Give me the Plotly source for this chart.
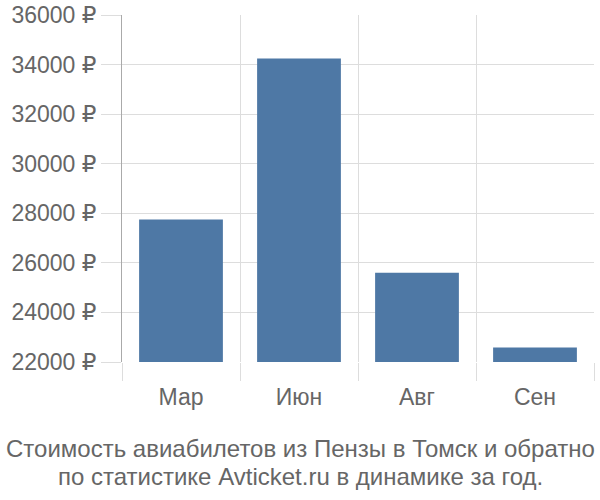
import plotly.graph_objects as go

months = ["Мар", "Июн", "Авг", "Сен"]
prices = [27750, 34250, 25600, 22580]
y_ticks = [22000, 24000, 26000, 28000, 30000, 32000, 34000, 36000]
y_labels = [f"{v} ₽" for v in y_ticks]
caption_lines = [
    "Стоимость авиабилетов из Пензы в Томск и обратно",
    "по статистике Avticket.ru в динамике за год.",
]

FONT = "Liberation Sans, Arial, DejaVu Sans, sans-serif"
GRID = "#dddddd"
TEXT = "#666666"

fig = go.Figure()
fig.add_trace(
    go.Bar(
        x=months,
        y=[p - y_ticks[0] for p in prices],
        base=y_ticks[0],
        marker=dict(color="#4e78a5", line=dict(width=0)),
        width=0.71,
        hoverinfo="skip",
    )
)

fig.update_xaxes(
    type="category",
    tickson="boundaries",
    ticks="outside",
    ticklen=18,
    tickcolor=GRID,
    showgrid=True,
    gridcolor=GRID,
    gridwidth=1,
    showline=False,
    ticklabelstandoff=19,
    automargin=False,
    tickfont=dict(family=FONT, size=23, color=TEXT),
)
fig.update_yaxes(
    range=[22000, 36000],
    tickvals=y_ticks,
    ticktext=y_labels,
    ticks="outside",
    ticklen=20,
    tickcolor=GRID,
    showgrid=True,
    gridcolor=GRID,
    gridwidth=1,
    zeroline=False,
    showline=True,
    linecolor="#aaaaaa",
    linewidth=1,
    automargin=False,
    tickfont=dict(family=FONT, size=23, color=TEXT),
)

# plain light line closing the plot on the right
fig.update_layout(
    yaxis2=dict(
        overlaying="y",
        side="right",
        anchor="x",
        range=[22000, 36000],
        showline=True,
        linecolor=GRID,
        linewidth=1,
        showgrid=False,
        zeroline=False,
        showticklabels=False,
        ticks="",
        automargin=False,
    )
)

for line, ypos in zip(caption_lines, [-0.248, -0.33]):
    fig.add_annotation(
        text=line,
        xref="paper",
        yref="paper",
        x=0.378,
        y=ypos,
        xanchor="center",
        yanchor="middle",
        showarrow=False,
        font=dict(family=FONT, size=24, color=TEXT),
    )

fig.update_layout(
    width=600,
    height=500,
    margin=dict(l=122, r=6, t=15, b=138),
    plot_bgcolor="white",
    paper_bgcolor="white",
    showlegend=False,
)

# page has a default 8px body margin; drop it so the chart sits at 0,0
fig.write_html(
    "out.html",
    config={"displayModeBar": False},
    post_script="document.body.style.margin='0';",
)
